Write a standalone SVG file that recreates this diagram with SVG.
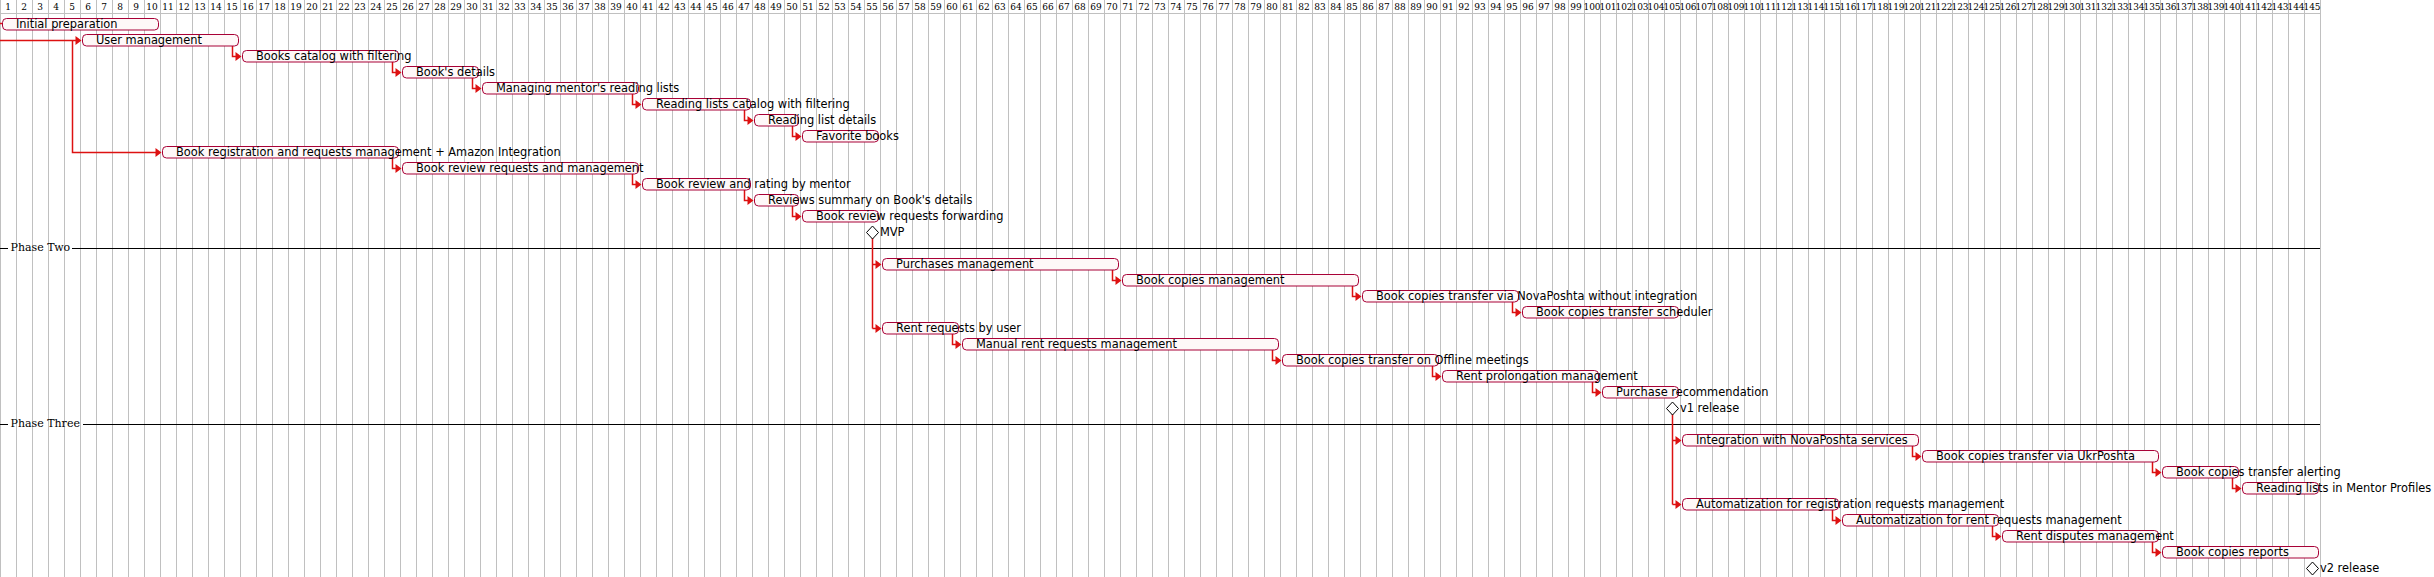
<svg xmlns="http://www.w3.org/2000/svg" width="2434" height="577" viewBox="0 0 2434 577">
<style>
.g{stroke:#C0C0C0;stroke-width:1}
.hd{font-family:"DejaVu Serif",serif;font-size:9px;text-anchor:middle;fill:#000}
.bar{fill:#FEF8F8;stroke:#A80036;stroke-width:1}
.t{font-family:"DejaVu Sans",sans-serif;font-size:11.4px;fill:#000}
.ph{font-family:"DejaVu Serif",serif;font-size:11px;fill:#000}
.sep{stroke:#000;stroke-width:1.2}
.ms{fill:#FFF;stroke:#000;stroke-width:1}
.c{fill:none;stroke:#DD1111;stroke-width:1.5}
.ah{fill:#DD1111}
</style>
<rect width="2434" height="577" fill="#FFF"/>
<g id="grid">
<path class="g" d="M0.5 0V577M16.5 0V577M32.5 0V577M48.5 0V577M64.5 0V577M80.5 0V577M96.5 0V577M112.5 0V577M128.5 0V577M144.5 0V577M160.5 0V577M176.5 0V577M192.5 0V577M208.5 0V577M224.5 0V577M240.5 0V577M256.5 0V577M272.5 0V577M288.5 0V577M304.5 0V577M320.5 0V577M336.5 0V577M352.5 0V577M368.5 0V577M384.5 0V577M400.5 0V577M416.5 0V577M432.5 0V577M448.5 0V577M464.5 0V577M480.5 0V577M496.5 0V577M512.5 0V577M528.5 0V577M544.5 0V577M560.5 0V577M576.5 0V577M592.5 0V577M608.5 0V577M624.5 0V577M640.5 0V577M656.5 0V577M672.5 0V577M688.5 0V577M704.5 0V577M720.5 0V577M736.5 0V577M752.5 0V577M768.5 0V577M784.5 0V577M800.5 0V577M816.5 0V577M832.5 0V577M848.5 0V577M864.5 0V577M880.5 0V577M896.5 0V577M912.5 0V577M928.5 0V577M944.5 0V577M960.5 0V577M976.5 0V577M992.5 0V577M1008.5 0V577M1024.5 0V577M1040.5 0V577M1056.5 0V577M1072.5 0V577M1088.5 0V577M1104.5 0V577M1120.5 0V577M1136.5 0V577M1152.5 0V577M1168.5 0V577M1184.5 0V577M1200.5 0V577M1216.5 0V577M1232.5 0V577M1248.5 0V577M1264.5 0V577M1280.5 0V577M1296.5 0V577M1312.5 0V577M1328.5 0V577M1344.5 0V577M1360.5 0V577M1376.5 0V577M1392.5 0V577M1408.5 0V577M1424.5 0V577M1440.5 0V577M1456.5 0V577M1472.5 0V577M1488.5 0V577M1504.5 0V577M1520.5 0V577M1536.5 0V577M1552.5 0V577M1568.5 0V577M1584.5 0V577M1600.5 0V577M1616.5 0V577M1632.5 0V577M1648.5 0V577M1664.5 0V577M1680.5 0V577M1696.5 0V577M1712.5 0V577M1728.5 0V577M1744.5 0V577M1760.5 0V577M1776.5 0V577M1792.5 0V577M1808.5 0V577M1824.5 0V577M1840.5 0V577M1856.5 0V577M1872.5 0V577M1888.5 0V577M1904.5 0V577M1920.5 0V577M1936.5 0V577M1952.5 0V577M1968.5 0V577M1984.5 0V577M2000.5 0V577M2016.5 0V577M2032.5 0V577M2048.5 0V577M2064.5 0V577M2080.5 0V577M2096.5 0V577M2112.5 0V577M2128.5 0V577M2144.5 0V577M2160.5 0V577M2176.5 0V577M2192.5 0V577M2208.5 0V577M2224.5 0V577M2240.5 0V577M2256.5 0V577M2272.5 0V577M2288.5 0V577M2304.5 0V577M2320.5 0V577M0 13.5H2320"/>
</g>
<g id="header">
<text class="hd" x="8" y="9.5">1</text><text class="hd" x="24" y="9.5">2</text><text class="hd" x="40" y="9.5">3</text><text class="hd" x="56" y="9.5">4</text><text class="hd" x="72" y="9.5">5</text><text class="hd" x="88" y="9.5">6</text><text class="hd" x="104" y="9.5">7</text><text class="hd" x="120" y="9.5">8</text><text class="hd" x="136" y="9.5">9</text><text class="hd" x="152" y="9.5">10</text><text class="hd" x="168" y="9.5">11</text><text class="hd" x="184" y="9.5">12</text><text class="hd" x="200" y="9.5">13</text><text class="hd" x="216" y="9.5">14</text><text class="hd" x="232" y="9.5">15</text><text class="hd" x="248" y="9.5">16</text><text class="hd" x="264" y="9.5">17</text><text class="hd" x="280" y="9.5">18</text><text class="hd" x="296" y="9.5">19</text><text class="hd" x="312" y="9.5">20</text><text class="hd" x="328" y="9.5">21</text><text class="hd" x="344" y="9.5">22</text><text class="hd" x="360" y="9.5">23</text><text class="hd" x="376" y="9.5">24</text><text class="hd" x="392" y="9.5">25</text><text class="hd" x="408" y="9.5">26</text><text class="hd" x="424" y="9.5">27</text><text class="hd" x="440" y="9.5">28</text><text class="hd" x="456" y="9.5">29</text><text class="hd" x="472" y="9.5">30</text><text class="hd" x="488" y="9.5">31</text><text class="hd" x="504" y="9.5">32</text><text class="hd" x="520" y="9.5">33</text><text class="hd" x="536" y="9.5">34</text><text class="hd" x="552" y="9.5">35</text><text class="hd" x="568" y="9.5">36</text><text class="hd" x="584" y="9.5">37</text><text class="hd" x="600" y="9.5">38</text><text class="hd" x="616" y="9.5">39</text><text class="hd" x="632" y="9.5">40</text><text class="hd" x="648" y="9.5">41</text><text class="hd" x="664" y="9.5">42</text><text class="hd" x="680" y="9.5">43</text><text class="hd" x="696" y="9.5">44</text><text class="hd" x="712" y="9.5">45</text><text class="hd" x="728" y="9.5">46</text><text class="hd" x="744" y="9.5">47</text><text class="hd" x="760" y="9.5">48</text><text class="hd" x="776" y="9.5">49</text><text class="hd" x="792" y="9.5">50</text><text class="hd" x="808" y="9.5">51</text><text class="hd" x="824" y="9.5">52</text><text class="hd" x="840" y="9.5">53</text><text class="hd" x="856" y="9.5">54</text><text class="hd" x="872" y="9.5">55</text><text class="hd" x="888" y="9.5">56</text><text class="hd" x="904" y="9.5">57</text><text class="hd" x="920" y="9.5">58</text><text class="hd" x="936" y="9.5">59</text><text class="hd" x="952" y="9.5">60</text><text class="hd" x="968" y="9.5">61</text><text class="hd" x="984" y="9.5">62</text><text class="hd" x="1000" y="9.5">63</text><text class="hd" x="1016" y="9.5">64</text><text class="hd" x="1032" y="9.5">65</text><text class="hd" x="1048" y="9.5">66</text><text class="hd" x="1064" y="9.5">67</text><text class="hd" x="1080" y="9.5">68</text><text class="hd" x="1096" y="9.5">69</text><text class="hd" x="1112" y="9.5">70</text><text class="hd" x="1128" y="9.5">71</text><text class="hd" x="1144" y="9.5">72</text><text class="hd" x="1160" y="9.5">73</text><text class="hd" x="1176" y="9.5">74</text><text class="hd" x="1192" y="9.5">75</text><text class="hd" x="1208" y="9.5">76</text><text class="hd" x="1224" y="9.5">77</text><text class="hd" x="1240" y="9.5">78</text><text class="hd" x="1256" y="9.5">79</text><text class="hd" x="1272" y="9.5">80</text><text class="hd" x="1288" y="9.5">81</text><text class="hd" x="1304" y="9.5">82</text><text class="hd" x="1320" y="9.5">83</text><text class="hd" x="1336" y="9.5">84</text><text class="hd" x="1352" y="9.5">85</text><text class="hd" x="1368" y="9.5">86</text><text class="hd" x="1384" y="9.5">87</text><text class="hd" x="1400" y="9.5">88</text><text class="hd" x="1416" y="9.5">89</text><text class="hd" x="1432" y="9.5">90</text><text class="hd" x="1448" y="9.5">91</text><text class="hd" x="1464" y="9.5">92</text><text class="hd" x="1480" y="9.5">93</text><text class="hd" x="1496" y="9.5">94</text><text class="hd" x="1512" y="9.5">95</text><text class="hd" x="1528" y="9.5">96</text><text class="hd" x="1544" y="9.5">97</text><text class="hd" x="1560" y="9.5">98</text><text class="hd" x="1576" y="9.5">99</text><text class="hd" x="1592" y="9.5">100</text><text class="hd" x="1608" y="9.5">101</text><text class="hd" x="1624" y="9.5">102</text><text class="hd" x="1640" y="9.5">103</text><text class="hd" x="1656" y="9.5">104</text><text class="hd" x="1672" y="9.5">105</text><text class="hd" x="1688" y="9.5">106</text><text class="hd" x="1704" y="9.5">107</text><text class="hd" x="1720" y="9.5">108</text><text class="hd" x="1736" y="9.5">109</text><text class="hd" x="1752" y="9.5">110</text><text class="hd" x="1768" y="9.5">111</text><text class="hd" x="1784" y="9.5">112</text><text class="hd" x="1800" y="9.5">113</text><text class="hd" x="1816" y="9.5">114</text><text class="hd" x="1832" y="9.5">115</text><text class="hd" x="1848" y="9.5">116</text><text class="hd" x="1864" y="9.5">117</text><text class="hd" x="1880" y="9.5">118</text><text class="hd" x="1896" y="9.5">119</text><text class="hd" x="1912" y="9.5">120</text><text class="hd" x="1928" y="9.5">121</text><text class="hd" x="1944" y="9.5">122</text><text class="hd" x="1960" y="9.5">123</text><text class="hd" x="1976" y="9.5">124</text><text class="hd" x="1992" y="9.5">125</text><text class="hd" x="2008" y="9.5">126</text><text class="hd" x="2024" y="9.5">127</text><text class="hd" x="2040" y="9.5">128</text><text class="hd" x="2056" y="9.5">129</text><text class="hd" x="2072" y="9.5">130</text><text class="hd" x="2088" y="9.5">131</text><text class="hd" x="2104" y="9.5">132</text><text class="hd" x="2120" y="9.5">133</text><text class="hd" x="2136" y="9.5">134</text><text class="hd" x="2152" y="9.5">135</text><text class="hd" x="2168" y="9.5">136</text><text class="hd" x="2184" y="9.5">137</text><text class="hd" x="2200" y="9.5">138</text><text class="hd" x="2216" y="9.5">139</text><text class="hd" x="2232" y="9.5">140</text><text class="hd" x="2248" y="9.5">141</text><text class="hd" x="2264" y="9.5">142</text><text class="hd" x="2280" y="9.5">143</text><text class="hd" x="2296" y="9.5">144</text><text class="hd" x="2312" y="9.5">145</text>
</g>
<g id="separators">
<path class="sep" d="M0 248.5H8M72 248.5H2320M0 424.5H8M83 424.5H2320"/>
<text class="ph" x="10.5" y="250.5">Phase Two</text>
<text class="ph" x="10.5" y="426.5">Phase Three</text>
</g>
<g id="connectors">
<path class="c" d="M0 23.5H2M0 40.5H78M72.5 40.5V152.5H158M232.5 46V56.5H238M392.5 62V72.5H398M472.5 78V88.5H478M632.5 94V104.5H638M744.5 110V120.5H750M792.5 126V136.5H798M392.5 158V168.5H398M632.5 174V184.5H638M744.5 190V200.5H750M792.5 206V216.5H798M872.5 238V328.5M872.5 264.5H878M872.5 328.5H878M1112.5 270V280.5H1118M1352.5 286V296.5H1358M1512.5 302V312.5H1518M952.5 334V344.5H958M1272.5 350V360.5H1278M1432.5 366V376.5H1438M1592.5 382V392.5H1598M1672.5 414V504.5M1672.5 440.5H1678M1672.5 504.5H1678M1912.5 446V456.5H1918M2152.5 462V472.5H2158M2232.5 478V488.5H2238M1832.5 510V520.5H1838M1992.5 526V536.5H1998M2152.5 542V552.5H2158"/>
<path class="ah" d="M81.5 40.5l-6-4.5v9zM161.5 152.5l-6-4.5v9zM241.5 56.5l-6-4.5v9zM401.5 72.5l-6-4.5v9zM481.5 88.5l-6-4.5v9zM641.5 104.5l-6-4.5v9zM753.5 120.5l-6-4.5v9zM801.5 136.5l-6-4.5v9zM401.5 168.5l-6-4.5v9zM641.5 184.5l-6-4.5v9zM753.5 200.5l-6-4.5v9zM801.5 216.5l-6-4.5v9zM881.5 264.5l-6-4.5v9zM881.5 328.5l-6-4.5v9zM1121.5 280.5l-6-4.5v9zM1361.5 296.5l-6-4.5v9zM1521.5 312.5l-6-4.5v9zM961.5 344.5l-6-4.5v9zM1281.5 360.5l-6-4.5v9zM1441.5 376.5l-6-4.5v9zM1601.5 392.5l-6-4.5v9zM1681.5 440.5l-6-4.5v9zM1681.5 504.5l-6-4.5v9zM1921.5 456.5l-6-4.5v9zM2161.5 472.5l-6-4.5v9zM2241.5 488.5l-6-4.5v9zM1841.5 520.5l-6-4.5v9zM2001.5 536.5l-6-4.5v9zM2161.5 552.5l-6-4.5v9z"/>
</g>
<g id="t0"><rect class="bar" x="2.5" y="18.5" width="156" height="11.5" rx="4"/><text class="t" x="16" y="28">Initial preparation</text></g>
<g id="t1"><rect class="bar" x="82.5" y="34.5" width="156" height="11.5" rx="4"/><text class="t" x="96" y="44">User management</text></g>
<g id="t2"><rect class="bar" x="242.5" y="50.5" width="156" height="11.5" rx="4"/><text class="t" x="256" y="60">Books catalog with filtering</text></g>
<g id="t3"><rect class="bar" x="402.5" y="66.5" width="76" height="11.5" rx="4"/><text class="t" x="416" y="76">Book's details</text></g>
<g id="t4"><rect class="bar" x="482.5" y="82.5" width="156" height="11.5" rx="4"/><text class="t" x="496" y="92">Managing mentor's reading lists</text></g>
<g id="t5"><rect class="bar" x="642.5" y="98.5" width="108" height="11.5" rx="4"/><text class="t" x="656" y="108">Reading lists catalog with filtering</text></g>
<g id="t6"><rect class="bar" x="754.5" y="114.5" width="44" height="11.5" rx="4"/><text class="t" x="768" y="124">Reading list details</text></g>
<g id="t7"><rect class="bar" x="802.5" y="130.5" width="76" height="11.5" rx="4"/><text class="t" x="816" y="140">Favorite books</text></g>
<g id="t8"><rect class="bar" x="162.5" y="146.5" width="236" height="11.5" rx="4"/><text class="t" x="176" y="156">Book registration and requests management + Amazon Integration</text></g>
<g id="t9"><rect class="bar" x="402.5" y="162.5" width="236" height="11.5" rx="4"/><text class="t" x="416" y="172">Book review requests and management</text></g>
<g id="t10"><rect class="bar" x="642.5" y="178.5" width="108" height="11.5" rx="4"/><text class="t" x="656" y="188">Book review and rating by mentor</text></g>
<g id="t11"><rect class="bar" x="754.5" y="194.5" width="44" height="11.5" rx="4"/><text class="t" x="768" y="204">Reviews summary on Book's details</text></g>
<g id="t12"><rect class="bar" x="802.5" y="210.5" width="76" height="11.5" rx="4"/><text class="t" x="816" y="220">Book review requests forwarding</text></g>
<g id="m_mvp"><path class="ms" d="M872.5 226L878.5 232.5L872.5 239L866.5 232.5Z"/><text class="t" x="880" y="236">MVP</text></g>
<g id="t15"><rect class="bar" x="882.5" y="258.5" width="236" height="11.5" rx="4"/><text class="t" x="896" y="268">Purchases management</text></g>
<g id="t16"><rect class="bar" x="1122.5" y="274.5" width="236" height="11.5" rx="4"/><text class="t" x="1136" y="284">Book copies management</text></g>
<g id="t17"><rect class="bar" x="1362.5" y="290.5" width="156" height="11.5" rx="4"/><text class="t" x="1376" y="300">Book copies transfer via NovaPoshta without integration</text></g>
<g id="t18"><rect class="bar" x="1522.5" y="306.5" width="156" height="11.5" rx="4"/><text class="t" x="1536" y="316">Book copies transfer scheduler</text></g>
<g id="t19"><rect class="bar" x="882.5" y="322.5" width="76" height="11.5" rx="4"/><text class="t" x="896" y="332">Rent requests by user</text></g>
<g id="t20"><rect class="bar" x="962.5" y="338.5" width="316" height="11.5" rx="4"/><text class="t" x="976" y="348">Manual rent requests management</text></g>
<g id="t21"><rect class="bar" x="1282.5" y="354.5" width="156" height="11.5" rx="4"/><text class="t" x="1296" y="364">Book copies transfer on Offline meetings</text></g>
<g id="t22"><rect class="bar" x="1442.5" y="370.5" width="156" height="11.5" rx="4"/><text class="t" x="1456" y="380">Rent prolongation management</text></g>
<g id="t23"><rect class="bar" x="1602.5" y="386.5" width="76" height="11.5" rx="4"/><text class="t" x="1616" y="396">Purchase recommendation</text></g>
<g id="m_v1"><path class="ms" d="M1672.5 402L1678.5 408.5L1672.5 415L1666.5 408.5Z"/><text class="t" x="1680" y="412">v1 release</text></g>
<g id="t26"><rect class="bar" x="1682.5" y="434.5" width="236" height="11.5" rx="4"/><text class="t" x="1696" y="444">Integration with NovaPoshta services</text></g>
<g id="t27"><rect class="bar" x="1922.5" y="450.5" width="236" height="11.5" rx="4"/><text class="t" x="1936" y="460">Book copies transfer via UkrPoshta</text></g>
<g id="t28"><rect class="bar" x="2162.5" y="466.5" width="76" height="11.5" rx="4"/><text class="t" x="2176" y="476">Book copies transfer alerting</text></g>
<g id="t29"><rect class="bar" x="2242.5" y="482.5" width="76" height="11.5" rx="4"/><text class="t" x="2256" y="492">Reading lists in Mentor Profiles</text></g>
<g id="t30"><rect class="bar" x="1682.5" y="498.5" width="156" height="11.5" rx="4"/><text class="t" x="1696" y="508">Automatization for registration requests management</text></g>
<g id="t31"><rect class="bar" x="1842.5" y="514.5" width="156" height="11.5" rx="4"/><text class="t" x="1856" y="524">Automatization for rent requests management</text></g>
<g id="t32"><rect class="bar" x="2002.5" y="530.5" width="156" height="11.5" rx="4"/><text class="t" x="2016" y="540">Rent disputes management</text></g>
<g id="t33"><rect class="bar" x="2162.5" y="546.5" width="156" height="11.5" rx="4"/><text class="t" x="2176" y="556">Book copies reports</text></g>
<g id="m_v2"><path class="ms" d="M2312.5 562L2318.5 568.5L2312.5 575L2306.5 568.5Z"/><text class="t" x="2320" y="572">v2 release</text></g>
</svg>
